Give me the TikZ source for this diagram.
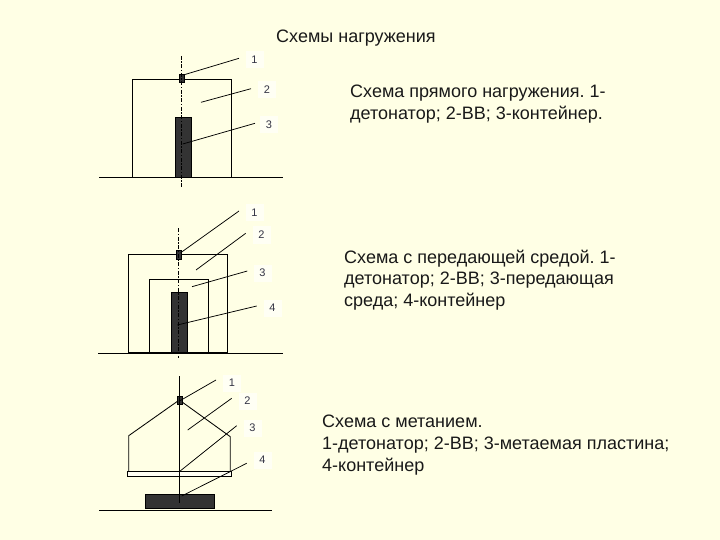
\documentclass[tikz,border=0pt]{standalone}
\usepackage{fontspec}
\setmainfont{Liberation Sans}
\frenchspacing
\definecolor{pagebg}{HTML}{FFFFE5}
\definecolor{darkfill}{HTML}{333333}
\definecolor{labfg}{HTML}{333344}
\definecolor{patch}{HTML}{FFFFF4}
\tikzset{
  x=1pt,y=-1pt,
  line/.style={draw=black,line width=0.85pt},
  leader/.style={draw=black,line width=0.75pt},
  axisline/.style={draw=black,line width=0.75pt,dash pattern=on 4pt off 1.5pt on 1.5pt off 1.5pt},
  dark/.style={fill=darkfill,draw=black,line width=0.4pt},
  caption/.style={anchor=north west,align=left,font=\fontsize{18}{21.8}\selectfont,inner sep=0pt,text=black!90},
  lab/.style={fill=patch,font=\fontsize{11}{12}\selectfont,text=labfg,inner sep=0pt,minimum width=18,minimum height=17},
}
\begin{document}
\begin{tikzpicture}
\fill[pagebg] (0,0) rectangle (720,540);
\useasboundingbox (0,0) rectangle (720,540);
% title
\node[caption] (title) at (276,30) {Схемы нагружения};
% ---------- scheme 1
\node[lab] (a1) at (254.5,60) {1};
\node[lab] (a2) at (267,90) {2};
\node[lab] (a3) at (269,125) {3};
\draw[line] (132.3,177) -- (132.3,79.3) -- (231.7,79.3) -- (231.7,177);
\fill[dark] (175.3,117.3) rectangle (190.7,177);
\fill[dark] (179.5,74) rectangle (184,82.7);
\draw[line] (99,177) -- (283,177);
\draw[axisline] (181.7,56) -- (181.7,188);
\coordinate (a1s) at (183.3,75); \coordinate (a1e) at (239,58.3);
\coordinate (a2s) at (201,102.3); \coordinate (a2e) at (251,88.7);
\coordinate (a3s) at (182.7,144); \coordinate (a3e) at (255,123.3);
\draw[leader] (a1s) -- (a1e);
\draw[leader] (a2s) -- (a2e);
\draw[leader] (a3s) -- (a3e);
\node[caption] (capa) at (350,85) {Схема прямого нагружения. 1-\\детонатор; 2-ВВ; 3-контейнер.};
% ---------- scheme 2
\node[lab] (b1) at (254.5,213) {1};
\node[lab] (b2) at (261.5,235) {2};
\node[lab] (b3) at (262.5,273) {3};
\node[lab] (b4) at (272.5,308) {4};
\draw[line] (128.3,353) -- (128.3,254.3) -- (227.7,254.3) -- (227.7,353);
\draw[line] (149.7,353) -- (149.7,279.3) -- (208.3,279.3) -- (208.3,353);
\fill[dark] (171.3,292.3) rectangle (186.7,353);
\fill[dark] (176.3,250) rectangle (180.7,259.3);
\draw[line] (98.3,353) -- (283,353);
\draw[line,line width=1.2pt] (128.3,353) -- (227.7,353);
\draw[axisline] (178.7,228.3) -- (178.7,358);
\coordinate (b1s) at (180.7,252.7); \coordinate (b1e) at (239,211);
\coordinate (b2s) at (196,270); \coordinate (b2e) at (245.7,233.3);
\coordinate (b3s) at (192,286.7); \coordinate (b3e) at (247.3,271);
\coordinate (b4s) at (177.3,325); \coordinate (b4e) at (256.7,306);
\draw[leader] (b1s) -- (b1e);
\draw[leader] (b2s) -- (b2e);
\draw[leader] (b3s) -- (b3e);
\draw[leader] (b4s) -- (b4e);
\node[caption] (capb) at (344,249.5) {Схема с передающей средой. 1-\\детонатор; 2-ВВ; 3-передающая\\среда; 4-контейнер};
% ---------- scheme 3
\node[lab] (c1) at (232,383) {1};
\node[lab] (c2) at (247.5,401) {2};
\node[lab] (c3) at (252.5,428) {3};
\node[lab] (c4) at (262.5,460) {4};
\draw[line] (128.7,471.3) -- (128.7,435.7) -- (179.3,400) -- (230.3,436.7) -- (230.3,471.3);
\draw[line,fill=patch] (127.3,471.3) rectangle (231.7,476.7);
\fill[dark] (145,494.3) rectangle (214,508.3);
\fill[dark] (177,396) rectangle (181.7,404);
\draw[line] (99.3,510.3) -- (271.7,510.3);
\draw[leader] (179.3,376) -- (179.3,503.3);
\coordinate (c1s) at (180,400.7); \coordinate (c1e) at (216,380);
\coordinate (c2s) at (187.7,430); \coordinate (c2e) at (231.7,398.3);
\coordinate (c3s) at (179.3,471.7); \coordinate (c3e) at (236.7,425.7);
\coordinate (c4s) at (181.7,496); \coordinate (c4e) at (246.7,463.3);
\draw[leader] (c1s) -- (c1e);
\draw[leader] (c2s) -- (c2e);
\draw[leader] (c3s) -- (c3e);
\draw[leader] (c4s) -- (c4e);
\node[caption] (capc) at (322,415) {Схема с метанием.\\1-детонатор; 2-ВВ; 3-метаемая пластина;\\4-контейнер};
\end{tikzpicture}
\end{document}
